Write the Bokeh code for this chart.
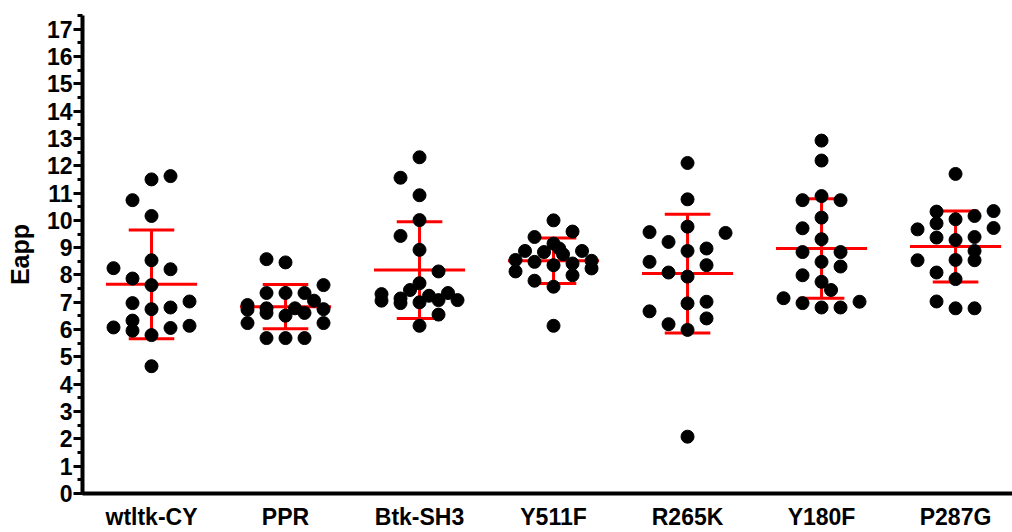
from bokeh.plotting import figure
from bokeh.models import Range1d, FixedTicker
from bokeh.embed import file_html
from bokeh.resources import INLINE

# ---- data ----
categories = ["wtltk-CY", "PPR", "Btk-SH3", "Y511F", "R265K", "Y180F", "P287G"]

wtltk_vals = [11.50, 11.62, 10.74, 10.16, 8.54, 8.25, 8.21, 7.87, 7.63, 6.97,
              7.03, 6.75, 6.81, 6.33, 6.08, 5.96, 6.06, 6.14, 5.80, 4.66]
wtltk_slot = [0, 1, -1, 0, 0, -2, 1, -1, 0, -1, 2, 0, 1, -1, -2, -1, 1, 2, 0, 0]

ppr_vals = [8.58, 8.46, 7.63, 7.34, 7.34, 7.34, 7.06, 6.90, 6.73, 6.78,
            6.61, 6.78, 6.61, 6.75, 6.51, 6.24, 6.24, 5.69, 5.69, 5.69]
ppr_slot = [-1, 0, 2, -1, 0, 1, 1.5, -2, -2, -1, -1, 0.5, 1, 2, 0, -2, 2, -1, 0, 1]

btk_vals = [12.31, 11.56, 10.92, 10.01, 9.43, 8.92, 8.13, 7.70, 7.45, 7.30,
            7.06, 7.14, 6.97, 7.00, 7.24, 7.08, 7.34, 7.08, 6.55, 6.14]
btk_slot = [0, -1, 0, 0, -1, 0, 1, 0, -0.5, -2, -2, -1, -1, 0, 0.5, 1, 1.5, 2, 1, 0]

y511f_vals = [10.00, 9.59, 9.39, 9.15, 8.88, 8.84, 8.97, 8.76, 8.88, 8.55,
              8.48, 8.36, 8.42, 8.52, 8.13, 8.24, 7.99, 7.79, 7.57, 6.14]
y511f_slot = [0, 1, -1, 0, -1.5, -0.5, 0.3, 0.5, 1.5, -2, -1, 0, 1, 2, -2, 2, 1, -1, 0, 0]

r265k_vals = [12.10, 10.77, 9.77, 9.57, 9.54, 9.21, 8.88, 8.97, 8.48, 8.36,
              8.09, 7.94, 6.96, 7.02, 6.67, 6.41, 6.20, 5.99, 2.08]
r265k_slot = [0, 0, 0, -2, 2, -1, 0, 1, -2, 1, -1, 0, 0, 1, -2, 1, -1, 0, 0]

y180f_vals = [12.92, 12.19, 10.89, 10.74, 10.74, 10.10, 9.71, 9.31, 8.84, 8.84,
              8.48, 8.31, 7.99, 7.75, 7.45, 7.15, 6.97, 6.81, 6.81, 7.02]
y180f_slot = [0, 0, 0, -1, 1, 0, -1, 0, -1, 1, 0, 1, -1, 0, 0.5, -2, -1, 0, 1, 2]

p287g_vals = [11.70, 10.32, 10.34, 10.16, 10.04, 9.89, 9.67, 9.72, 9.37, 9.28,
              9.39, 8.88, 8.54, 8.54, 8.55, 8.09, 7.85, 7.03, 6.78, 6.78]
p287g_slot = [0, -1, 2, 1, 0, -1, -2, 2, -1, 0, 1, 1, 1, -2, 0, -1, 0, -1, 0, 1]

means = [7.66, 6.84, 8.18, 8.52, 8.05, 8.97, 9.04]
sds = [1.99, 0.81, 1.77, 0.83, 2.17, 1.82, 1.30]

y_ticks = list(range(0, 18))

groups_vals = [wtltk_vals, ppr_vals, btk_vals, y511f_vals, r265k_vals, y180f_vals, p287g_vals]
groups_slot = [wtltk_slot, ppr_slot, btk_slot, y511f_slot, r265k_slot, y180f_slot, p287g_slot]

# ---- figure ----
FONT = "Liberation Sans"
W, H = 1012, 532
p = figure(width=W, height=H, output_backend="svg", toolbar_location=None,
           x_range=Range1d(-0.515, 6.425), y_range=Range1d(0, 17.5),
           min_border_left=82, min_border_right=0, min_border_top=15, min_border_bottom=37)
p.outline_line_color = None
p.xgrid.visible = False
p.ygrid.visible = False
p.background_fill_color = "white"
p.border_fill_color = "white"

slot_w = 0.1418
xs, ys = [], []
for i, (vals, slots) in enumerate(zip(groups_vals, groups_slot)):
    for v, s in zip(vals, slots):
        xs.append(i + s * slot_w)
        ys.append(v)

idx = list(range(len(categories)))
up = [m + s for m, s in zip(means, sds)]
lo = [m - s for m, s in zip(means, sds)]

red = "#ff0000"
p.segment(x0=[i - 0.34 for i in idx], x1=[i + 0.34 for i in idx], y0=means, y1=means,
          line_color=red, line_width=3)
p.segment(x0=idx, x1=idx, y0=lo, y1=up, line_color=red, line_width=3)
p.segment(x0=[i - 0.17 for i in idx], x1=[i + 0.17 for i in idx], y0=up, y1=up,
          line_color=red, line_width=3)
p.segment(x0=[i - 0.17 for i in idx], x1=[i + 0.17 for i in idx], y0=lo, y1=lo,
          line_color=red, line_width=3)

p.scatter(xs, ys, size=13, fill_color="black", line_color="black")

# axes
for ax in (p.xaxis, p.yaxis):
    ax.axis_line_width = 4
    ax.axis_line_color = "black"
    ax.major_label_text_font = FONT
    ax.major_label_text_font_style = "bold"
    ax.major_label_text_font_size = "23px"
    ax.major_label_text_color = "black"

p.yaxis.ticker = FixedTicker(ticks=y_ticks, minor_ticks=[t / 2 for t in range(0, 36)])
p.yaxis.major_tick_out = 9
p.yaxis.major_tick_in = 0
p.yaxis.minor_tick_out = 5
p.yaxis.minor_tick_in = 0
p.yaxis.major_tick_line_width = 3
p.yaxis.minor_tick_line_width = 3
p.yaxis.major_label_standoff = 1
p.yaxis.axis_label = "Eapp"
p.yaxis.axis_label_text_font = FONT
p.yaxis.axis_label_text_font_style = "bold"
p.yaxis.axis_label_text_font_size = "25px"
p.yaxis.axis_label_text_color = "black"
p.yaxis.axis_label_standoff = 10

p.xaxis.ticker = FixedTicker(ticks=idx)
p.xaxis.major_label_overrides = {i: c for i, c in enumerate(categories)}
p.xaxis.major_tick_out = 0
p.xaxis.major_tick_in = 0
p.xaxis.minor_tick_out = 0
p.xaxis.minor_tick_in = 0
p.xaxis.major_label_standoff = 10

open("out.html", "w").write(file_html(p, INLINE))
